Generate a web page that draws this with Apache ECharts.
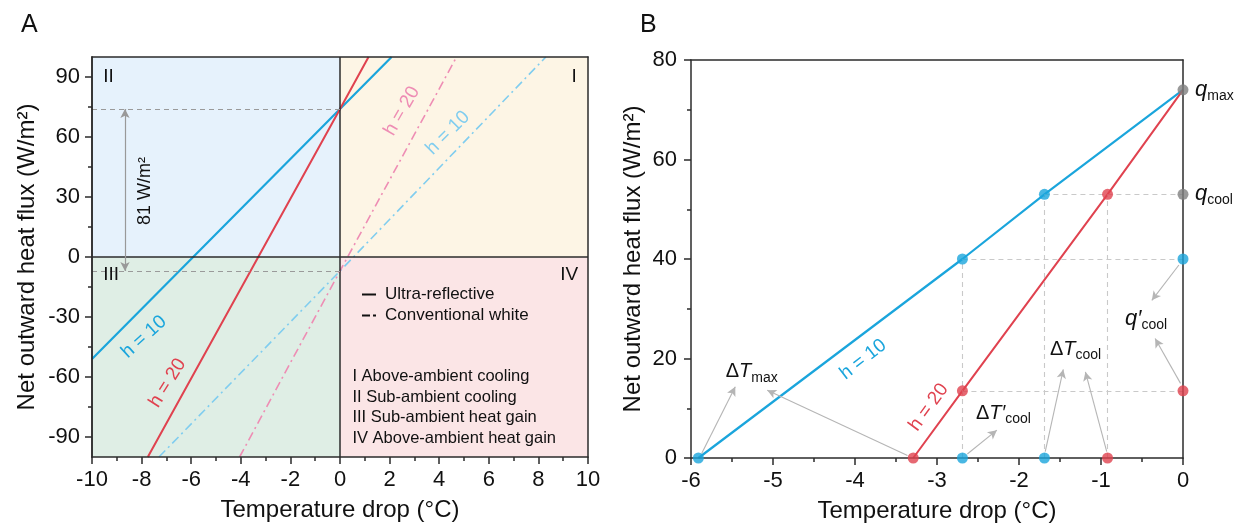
<!DOCTYPE html>
<html><head><meta charset="utf-8">
<script src="https://cdn.jsdelivr.net/npm/echarts@6/dist/echarts.min.js"></script>
<style>html,body{margin:0;padding:0;background:#fff}#c{width:1237px;height:523px}</style>
</head><body><div id="c"></div>
<script>
// ---------- Panel A data ----------
const aXRange = [-10, 10];
const aYRange = [-100, 100];
const aYTickLabels = [-90, -60, -30, 0, 30, 60, 90];
const aYMinorTicks = [-75, -45, -15, 15, 45, 75];
const aUltraH10 = [[-10, -51], [0, 74], [2.08, 100]];
const aUltraH20 = [[-7.75, -100], [0, 74], [1.15, 100]];
const aConvH10 = [[-7.3, -100], [0, -7], [8.3, 100]];
const aConvH20 = [[-4.05, -100], [0, -7], [4.7, 100]];
const aQUltra = 74;
const aQConv = -7;
const aArrowX = -8.67;
const aLegendNames = ['Ultra-reflective', 'Conventional white'];
const aRegionText = ['I Above-ambient cooling', 'II Sub-ambient cooling', 'III Sub-ambient heat gain', 'IV Above-ambient heat gain'];

// ---------- Panel B data ----------
const bXRange = [-6, 0];
const bYRange = [0, 80];
const bH10 = [[-5.91, 0], [-2.69, 40], [-1.69, 53], [0, 74]];
const bH20 = [[-3.29, 0], [-2.69, 13.5], [-0.92, 53], [0, 74]];
const bBluePts = [[-5.91, 0], [-2.69, 40], [-1.69, 53], [0, 40], [-2.69, 0], [-1.69, 0]];
const bRedPts = [[-3.29, 0], [-2.69, 13.5], [-0.92, 53], [0, 13.5], [-0.92, 0]];
const bGreyPts = [[0, 74], [0, 53]];
const bGuides = [
  [[-1.69, 53], [0, 53]], [[-2.69, 40], [0, 40]], [[-2.69, 13.5], [0, 13.5]],
  [[-2.69, 0], [-2.69, 40]], [[-1.69, 0], [-1.69, 53]], [[-0.92, 0], [-0.92, 53]]
];
const bArrows = [
  [[-5.87, 0.9], [-5.46, 14.3]], [[-3.36, 0.5], [-5.07, 13.6]],
  [[-2.63, 0.8], [-2.27, 5.6]], [[-1.68, 1.3], [-1.46, 17.8]],
  [[-0.93, 1.3], [-1.19, 17.3]], [[-0.05, 38.8], [-0.38, 31.7]],
  [[-0.03, 15.0], [-0.34, 24]]
];

const F = '"Liberation Sans", Arial, sans-serif';
const BLUE = '#1aa5dc', RED = '#e0424f', PINK = '#ee8db4', LBLUE = '#80cdef', GREY = '#808080';
const INK = '#111';
const TICK_FS = 22, TITLE_FS = 24;

const rich = {
  n: {fontSize: 20, fontFamily: F, color: INK, lineHeight: 26},
  it: {fontSize: 20, fontFamily: F, color: INK, fontStyle: 'italic', lineHeight: 26},
  qi: {fontSize: 22, fontFamily: F, color: INK, fontStyle: 'italic', lineHeight: 26},
  sb: {fontSize: 14, fontFamily: F, color: INK, verticalAlign: 'bottom', lineHeight: 14}
};

function note(coord, text, extra) {
  return {
    coord: coord, symbol: 'circle', symbolSize: 0,
    itemStyle: {color: 'rgba(0,0,0,0)'},
    label: Object.assign({show: true, position: 'inside', formatter: () => text,
      color: INK, fontSize: 18, fontFamily: F, rich: rich}, extra || {})
  };
}
function seg(p, q, s0, s1) {
  return [{coord: p, symbol: s0 || 'none'}, {coord: q, symbol: s1 || 'none'}];
}

const axisLineStyle = {color: '#2b2b2b', width: 1.5};
function frameAxis(grid, pos, range) {
  return {type: 'value', gridIndex: grid, position: pos, min: range[0], max: range[1], z: 10,
    axisLine: {show: true, onZero: false, lineStyle: axisLineStyle},
    axisTick: {show: false}, axisLabel: {show: false}, splitLine: {show: false}};
}
const nameStyle = {fontSize: TITLE_FS, color: INK, fontFamily: F};
const labelStyle = (m) => ({fontSize: TICK_FS, color: INK, fontFamily: F, margin: m});

const option = {
  animation: false,
  backgroundColor: '#fff',
  textStyle: {fontFamily: F},
  title: [
    {text: 'A', left: 16, top: 8, textStyle: {fontSize: 25, fontWeight: 'normal', color: INK, fontFamily: F}},
    {text: 'B', left: 635, top: 8, textStyle: {fontSize: 25, fontWeight: 'normal', color: INK, fontFamily: F}}
  ],
  legend: {
    data: [
      {name: aLegendNames[0], icon: 'path://M0,0H14V2H0Z'},
      {name: aLegendNames[1], icon: 'path://M0,0H8V2H0Z M11,0H14V2H11Z'}
    ],
    left: 357, top: 281, orient: 'vertical', selectedMode: false,
    itemWidth: 14, itemHeight: 2, itemGap: 4,
    itemStyle: {color: '#111', borderWidth: 0},
    textStyle: {fontSize: 17, color: INK, fontFamily: F, padding: [0, 0, 0, 4]}
  },
  grid: [
    {left: 92, top: 57, width: 496, height: 400, containLabel: false, outerBoundsMode: 'none'},
    {left: 691, top: 60, width: 492, height: 398, containLabel: false, outerBoundsMode: 'none'}
  ],
  xAxis: [
    {type: 'value', gridIndex: 0, position: 'bottom', min: aXRange[0], max: aXRange[1], interval: 2, z: 10,
      name: 'Temperature drop (°C)', nameLocation: 'middle', nameGap: 41, nameTextStyle: nameStyle,
      axisLine: {onZero: false, lineStyle: axisLineStyle},
      axisTick: {show: true, inside: false, length: 7, lineStyle: axisLineStyle},
      minorTick: {show: true, splitNumber: 2, length: 4, lineStyle: axisLineStyle},
      axisLabel: labelStyle(12), splitLine: {show: false}},
    frameAxis(0, 'top', aXRange),
    {type: 'value', gridIndex: 1, position: 'bottom', min: bXRange[0], max: bXRange[1], interval: 1, z: 10,
      name: 'Temperature drop (°C)', nameLocation: 'middle', nameGap: 41, nameTextStyle: nameStyle,
      axisLine: {onZero: false, lineStyle: axisLineStyle},
      axisTick: {show: true, inside: false, length: 7, lineStyle: axisLineStyle},
      minorTick: {show: true, splitNumber: 2, length: 4, lineStyle: axisLineStyle},
      axisLabel: labelStyle(12), splitLine: {show: false}},
    frameAxis(1, 'top', bXRange)
  ],
  yAxis: [
    {type: 'value', gridIndex: 0, position: 'left', min: aYRange[0], max: aYRange[1], z: 10,
      name: 'Net outward heat flux (W/m²)', nameLocation: 'middle', nameGap: 53, nameTextStyle: nameStyle,
      axisLine: {onZero: false, lineStyle: axisLineStyle},
      axisTick: {show: true, inside: false, length: 7, customValues: aYTickLabels, lineStyle: axisLineStyle},
      axisLabel: Object.assign(labelStyle(12), {customValues: aYTickLabels}),
      splitLine: {show: false}},
    {type: 'value', gridIndex: 0, position: 'left', min: aYRange[0], max: aYRange[1], z: 10,
      axisLine: {show: true, onZero: false, lineStyle: axisLineStyle},
      axisTick: {show: true, inside: false, length: 4, customValues: aYMinorTicks, lineStyle: axisLineStyle},
      axisLabel: {show: false, customValues: aYMinorTicks}, splitLine: {show: false}},
    frameAxis(0, 'right', aYRange),
    {type: 'value', gridIndex: 1, position: 'left', min: bYRange[0], max: bYRange[1], interval: 20, z: 10,
      name: 'Net outward heat flux (W/m²)', nameLocation: 'middle', nameGap: 46, nameTextStyle: nameStyle,
      axisLine: {onZero: false, lineStyle: axisLineStyle},
      axisTick: {show: true, inside: false, length: 7, lineStyle: axisLineStyle},
      minorTick: {show: true, splitNumber: 2, length: 4, lineStyle: axisLineStyle},
      axisLabel: labelStyle(14), splitLine: {show: false}},
    frameAxis(1, 'right', bYRange)
  ],
  series: [
    // ---- Panel A backgrounds, dividers, guides ----
    {type: 'line', xAxisIndex: 0, yAxisIndex: 0, data: [], z: 1, silent: true,
      markArea: {silent: true, data: [
        [{coord: [aXRange[0], 0], itemStyle: {color: '#e6f2fc'}}, {coord: [0, aYRange[1]]}],
        [{coord: [0, 0], itemStyle: {color: '#fdf5e5'}}, {coord: [aXRange[1], aYRange[1]]}],
        [{coord: [aXRange[0], aYRange[0]], itemStyle: {color: '#dfeee5'}}, {coord: [0, 0]}],
        [{coord: [0, aYRange[0]], itemStyle: {color: '#fbe5e6'}}, {coord: [aXRange[1], 0]}]
      ]}},
    {type: 'line', xAxisIndex: 0, yAxisIndex: 0, data: [], z: 2, silent: true,
      markLine: {silent: true, symbol: 'none', label: {show: false},
        lineStyle: {color: '#2b2b2b', type: 'solid', width: 1.5},
        data: [
          seg([0, aYRange[0]], [0, aYRange[1]]),
          seg([aXRange[0], 0], [aXRange[1], 0])
        ]}},
    {type: 'line', xAxisIndex: 0, yAxisIndex: 0, data: [], z: 2, silent: true,
      markLine: {silent: true, symbol: 'none', label: {show: false},
        lineStyle: {color: '#9a9a9a', type: [5, 4], width: 1.2},
        data: [
          seg([aXRange[0], aQUltra], [0, aQUltra]),
          seg([aXRange[0], aQConv], [0, aQConv])
        ]}},
    {type: 'line', xAxisIndex: 0, yAxisIndex: 0, data: [], z: 2, silent: true,
      markLine: {silent: true, label: {show: false}, symbolSize: [7, 9],
        lineStyle: {color: '#999999', type: 'solid', width: 1.2},
        data: [seg([aArrowX, aQConv], [aArrowX, aQUltra], 'arrow', 'arrow')]}},
    // ---- Panel A lines ----
    {name: 'Ultra-reflective', type: 'line', xAxisIndex: 0, yAxisIndex: 0, data: [], symbol: 'none',
      lineStyle: {color: '#111', width: 2, type: 'solid'}, itemStyle: {color: '#111'}},
    {name: 'Conventional white', type: 'line', xAxisIndex: 0, yAxisIndex: 0, data: [], symbol: 'none',
      lineStyle: {color: '#111', width: 2, type: [7, 3, 2, 3]}, itemStyle: {color: '#111'}},
    {type: 'line', xAxisIndex: 0, yAxisIndex: 0, data: aConvH10, symbol: 'none', z: 3, clip: true,
      lineStyle: {color: LBLUE, width: 1.6, type: [9, 4, 2, 4]}},
    {type: 'line', xAxisIndex: 0, yAxisIndex: 0, data: aConvH20, symbol: 'none', z: 3, clip: true,
      lineStyle: {color: PINK, width: 1.6, type: [9, 4, 2, 4]}},
    {type: 'line', xAxisIndex: 0, yAxisIndex: 0, data: aUltraH10, symbol: 'none', z: 4, clip: true,
      lineStyle: {color: BLUE, width: 2.2}},
    {type: 'line', xAxisIndex: 0, yAxisIndex: 0, data: aUltraH20, symbol: 'none', z: 4, clip: true,
      lineStyle: {color: RED, width: 2}},
    // ---- Panel A text ----
    {type: 'line', xAxisIndex: 0, yAxisIndex: 0, data: [], z: 6, silent: true,
      markPoint: {silent: true, data: [
        note([-9.55, 90], 'II', {align: 'left', fontSize: 19}),
        note([9.55, 90], 'I', {align: 'right', fontSize: 19}),
        note([-9.55, -9], 'III', {align: 'left', fontSize: 19}),
        note([9.6, -9], 'IV', {align: 'right', fontSize: 19}),
        note([-7.85, 33], '81 W/m²', {rotate: 90, fontSize: 18}),
        note([2.5, 73], 'h = 20', {rotate: 60, fontSize: 19, color: PINK}),
        note([4.35, 62], 'h = 10', {rotate: 45, fontSize: 19, color: LBLUE}),
        note([-7.9, -40], 'h = 10', {rotate: 42, fontSize: 19, color: BLUE}),
        note([-6.95, -63], 'h = 20', {rotate: 58, fontSize: 19, color: RED}),
        note([0.5, -59.5], aRegionText[0], {align: 'left', fontSize: 16.5}),
        note([0.5, -70], aRegionText[1], {align: 'left', fontSize: 16.5}),
        note([0.5, -80.3], aRegionText[2], {align: 'left', fontSize: 16.5}),
        note([0.5, -90.5], aRegionText[3], {align: 'left', fontSize: 16.5})
      ]}},
    // ---- Panel B guides ----
    {type: 'line', xAxisIndex: 2, yAxisIndex: 3, data: [], z: 2, silent: true,
      markLine: {silent: true, symbol: 'none', label: {show: false},
        lineStyle: {color: '#c9c9c9', type: [5, 4], width: 1.1},
        data: bGuides.map(g => seg(g[0], g[1]))}},
    {type: 'line', xAxisIndex: 2, yAxisIndex: 3, data: [], z: 2, silent: true,
      markLine: {silent: true, label: {show: false}, symbolSize: [7, 9],
        lineStyle: {color: '#b5b5b5', type: 'solid', width: 1.1},
        data: bArrows.map(g => seg(g[0], g[1], 'none', 'arrow'))}},
    // ---- Panel B lines ----
    {type: 'line', xAxisIndex: 2, yAxisIndex: 3, data: bH10, symbol: 'none', z: 4,
      lineStyle: {color: BLUE, width: 2.2}},
    {type: 'line', xAxisIndex: 2, yAxisIndex: 3, data: bH20, symbol: 'none', z: 4,
      lineStyle: {color: RED, width: 2}},
    {type: 'scatter', xAxisIndex: 2, yAxisIndex: 3, data: bBluePts, symbolSize: 11, z: 12, clip: false,
      itemStyle: {color: BLUE}},
    {type: 'scatter', xAxisIndex: 2, yAxisIndex: 3, data: bRedPts, symbolSize: 11, z: 12, clip: false,
      itemStyle: {color: RED}},
    {type: 'scatter', xAxisIndex: 2, yAxisIndex: 3, data: bGreyPts, symbolSize: 11, z: 12, clip: false,
      itemStyle: {color: GREY}},
    // ---- Panel B text ----
    {type: 'line', xAxisIndex: 2, yAxisIndex: 3, data: [], z: 13, silent: true,
      markPoint: {silent: true, data: [
        note([-3.9, 19.8], 'h = 10', {rotate: 38, fontSize: 19, color: BLUE}),
        note([-3.1, 10.2], 'h = 20', {rotate: 54, fontSize: 19, color: RED}),
        note([-5.26, 17.3], '{n|Δ}{it|T}{sb|max}'),
        note([-2.19, 9.0], '{n|Δ}{it|T′}{sb|cool}'),
        note([-1.31, 21.8], '{n|Δ}{it|T}{sb|cool}'),
        note([-0.45, 28.0], '{qi|q′}{sb|cool}'),
        note([0, 74], '{qi|q}{sb|max}', {position: 'right', distance: 12}),
        note([0, 53], '{qi|q}{sb|cool}', {position: 'right', distance: 12})
      ]}}
  ]
};

const chart = echarts.init(document.getElementById('c'), null, {renderer: 'canvas'});
chart.setOption(option);
</script>
</body></html>
